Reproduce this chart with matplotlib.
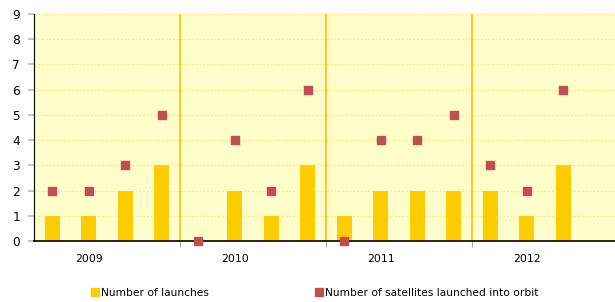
import numpy as np
import matplotlib.pyplot as plt
from matplotlib.lines import Line2D

# Quarterly data 2009-2012 (last quarter of 2012 not reported)
years = ['2009', '2010', '2011', '2012']
launches = [1, 1, 2, 3, 0, 2, 1, 3, 1, 2, 2, 2, 2, 1, 3, np.nan]
satellites = [2, 2, 3, 5, 0, 4, 2, 6, 0, 4, 4, 5, 3, 2, 6, np.nan]

x = np.arange(len(launches))

fig = plt.figure(figsize=(6.15, 3.02), dpi=100)
ax = fig.add_axes([34 / 615, 1 - 241 / 302, 584 / 615, 227 / 302])
ax.set_facecolor('#FFFDC9')

# dotted horizontal grid
for yv in range(1, 10):
    ax.axhline(yv, color='#FFE680', linestyle=(0, (1.5, 1.5)), linewidth=0.9, zorder=1)

# year separators
for b in [3.5, 7.5, 11.5]:
    ax.axvline(b, color='#FFC000', linewidth=1.2, zorder=1)

ax.bar(x, launches, width=0.42, color='#FFCC00', zorder=2)
ax.scatter(x, satellites, marker='s', s=38, color='#C0504D', zorder=3, clip_on=False)

ax.set_xlim(-0.5, 15.5)
ax.set_ylim(0, 9)
ax.set_yticks(range(0, 10))
ax.tick_params(axis='y', labelsize=8.7, color='#BBBBBB', length=4, width=1.2, pad=6)

ax.set_xticks([3.5, 7.5, 11.5])
ax.set_xticklabels([])
ax.tick_params(axis='x', color='#AAAAAA', length=4, width=0.8)
for i, yr in enumerate(years):
    ax.text(4 * i + 1, -0.5, yr, ha='center', va='top', fontsize=7.8)

for s in ['top', 'right']:
    ax.spines[s].set_visible(False)
ax.spines['left'].set_color('black')
ax.spines['bottom'].set_color('black')
ax.spines['bottom'].set_linewidth(1.2)

handles = [
    Line2D([], [], marker='s', linestyle='', color='#FFCC00', markersize=6),
    Line2D([], [], marker='s', linestyle='', color='#C0504D', markersize=6),
]
fig.legend(handles, ['Number of launches', 'Number of satellites launched into orbit'],
           loc='center left', bbox_to_anchor=(90 / 615, 1 - 293 / 302), ncol=2, frameon=False,
           fontsize=7.7, handletextpad=0.05, columnspacing=9.75, handlelength=1,
           borderpad=0, borderaxespad=0)

fig.savefig('out.png', dpi=100)
